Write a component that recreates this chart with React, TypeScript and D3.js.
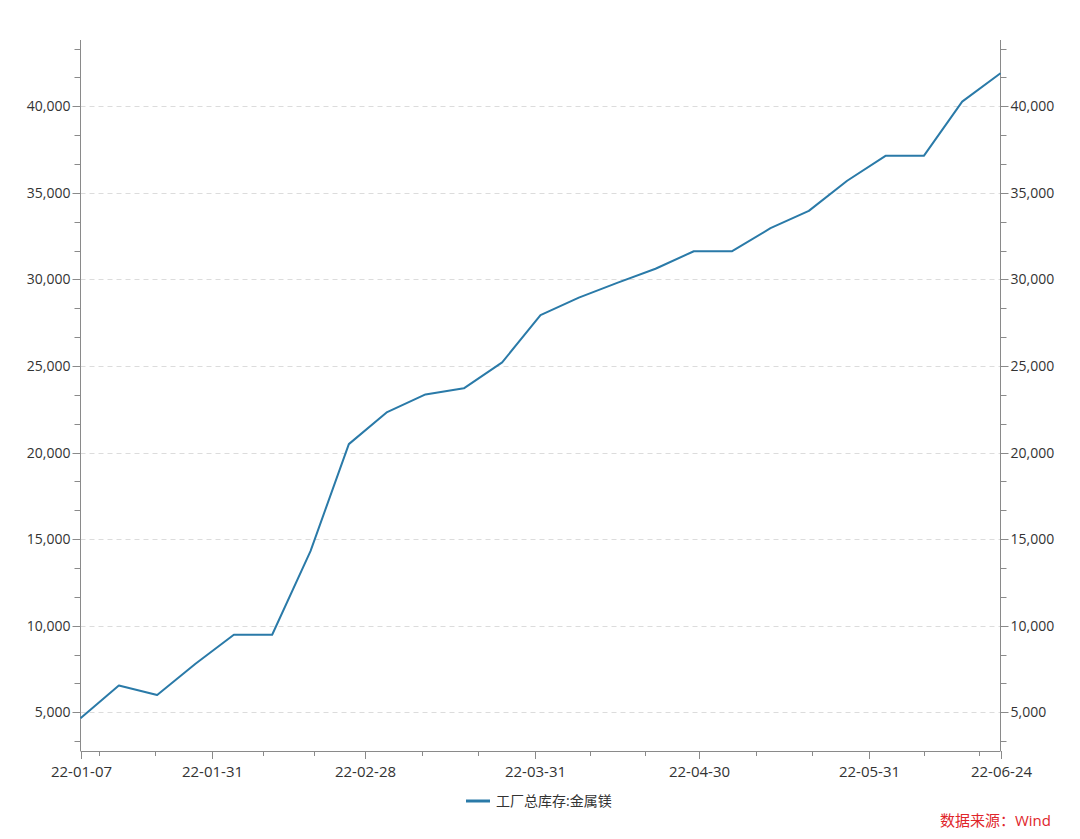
import React from "react";
import * as d3 from "d3";

const dates: string[] = [
  "2022-01-07","2022-01-14","2022-01-21","2022-01-28","2022-02-04","2022-02-11","2022-02-18","2022-02-25",
  "2022-03-04","2022-03-11","2022-03-18","2022-03-25","2022-04-01","2022-04-08","2022-04-15","2022-04-22",
  "2022-04-29","2022-05-06","2022-05-13","2022-05-20","2022-05-27","2022-06-03","2022-06-10","2022-06-17","2022-06-24",
];
const values: number[] = [
  4650, 6550, 6000, 7800, 9480, 9480, 14310, 20490,
  22340, 23360, 23710, 25210, 27940, 28950, 29800, 30620,
  31630, 31630, 32960, 33960, 35700, 37140, 37140, 40270, 41910,
];
const xTickDates: string[] = ["2022-01-07","2022-01-31","2022-02-28","2022-03-31","2022-04-30","2022-05-31","2022-06-24"];
const monthEnds: string[] = ["2021-12-31","2022-01-31","2022-02-28","2022-03-31","2022-04-30","2022-05-31","2022-06-30"];
const yTicks: number[] = [5000, 10000, 15000, 20000, 25000, 30000, 35000, 40000];
const seriesName = "工厂总库存:金属镁";
const sourceText = "数据来源：Wind";

const W = 1080, H = 839;
const L = 80.5, R = 1000.5, T = 40, B = 751;
const FONT = "'Open Sans', 'Noto Sans CJK SC', sans-serif";

export default function App() {
  const parse = d3.utcParse("%Y-%m-%d");
  const fmt = d3.utcFormat("%y-%m-%d");
  const x = d3.scaleUtc().domain([parse(dates[0])!, parse(dates[dates.length - 1])!]).range([L, R]);
  const y = d3.scaleLinear().domain([2765, 43830]).range([B, T]);
  const pts = dates.map((d, i) => ({ d: parse(d)!, v: values[i] }));
  const line = d3.line<{ d: Date; v: number }>().x((p) => x(p.d)).y((p) => y(p.v));

  // minor x ticks at thirds between month ends
  const minorX: number[] = [];
  for (let i = 0; i < monthEnds.length - 1; i++) {
    const a = x(parse(monthEnds[i])!), b = x(parse(monthEnds[i + 1])!);
    [1, 2].forEach((k) => {
      const p = a + ((b - a) * k) / 3;
      if (p > L + 1 && p < R - 1) minorX.push(p);
    });
  }
  // minor y ticks at thirds of 5000
  const minorY: number[] = [];
  for (let v = 0; v <= 45000; v += 5000 / 3) {
    const r = Math.round(v);
    if (r % 5000 === 0) continue;
    if (v > y.domain()[0] && v < y.domain()[1]) minorY.push(v);
  }
  const fmtNum = d3.format(",");

  return (
    <svg width={W} height={H} style={{ position: "absolute", left: 0, top: 0, background: "#fff" }} fontFamily={FONT}>
      {yTicks.map((t) => (
        <line key={"g" + t} x1={L} x2={R} y1={Math.round(y(t)) + 0.5} y2={Math.round(y(t)) + 0.5} stroke="#dcdcdc" strokeDasharray="5,4" />
      ))}
      {/* axes */}
      <line x1={L} x2={L} y1={T} y2={B} stroke="#8a8a8a" />
      <line x1={R} x2={R} y1={T} y2={B} stroke="#8a8a8a" />
      <line x1={L} x2={R} y1={B + 0.5} y2={B + 0.5} stroke="#8a8a8a" />
      {yTicks.map((t) => {
        const yy = Math.round(y(t)) + 0.5;
        return (
          <g key={"yt" + t}>
            <line x1={L - 8} x2={L} y1={yy} y2={yy} stroke="#8a8a8a" />
            <line x1={R} x2={R + 8} y1={yy} y2={yy} stroke="#8a8a8a" />
            <text x={L - 10} y={yy} dy="0.35em" textAnchor="end" fontSize={14} fill="#333">{fmtNum(t)}</text>
            <text x={R + 10} y={yy} dy="0.35em" textAnchor="start" fontSize={14} fill="#333">{fmtNum(t)}</text>
          </g>
        );
      })}
      {minorY.map((t) => {
        const yy = Math.round(y(t)) + 0.5;
        return (
          <g key={"ym" + t}>
            <line x1={L - 6} x2={L} y1={yy} y2={yy} stroke="#8a8a8a" />
            <line x1={R} x2={R + 6} y1={yy} y2={yy} stroke="#8a8a8a" />
          </g>
        );
      })}
      {minorX.map((p, i) => (
        <line key={"xm" + i} x1={Math.round(p) + 0.5} x2={Math.round(p) + 0.5} y1={B} y2={B + 5} stroke="#8a8a8a" />
      ))}
      {xTickDates.map((ds) => {
        const xx = Math.round(x(parse(ds)!)) + 0.5;
        return (
          <g key={"xt" + ds}>
            <line x1={xx} x2={xx} y1={B} y2={B + 8} stroke="#8a8a8a" />
            <text x={xx} y={777} textAnchor="middle" fontSize={15} fill="#333">{fmt(parse(ds)!)}</text>
          </g>
        );
      })}
      <path d={line(pts) || ""} fill="none" stroke="#2a7aa8" strokeWidth={2} strokeLinejoin="round" />
      {/* legend */}
      <line x1={466} x2={490} y1={801} y2={801} stroke="#2a7aa8" strokeWidth={3} />
      <text x={496} y={801} dy="0.35em" fontSize={14} fill="#333">{seriesName}</text>
      <text x={1051} y={826} textAnchor="end" fontSize={15} fill="#e0262b">{sourceText}</text>
    </svg>
  );
}
